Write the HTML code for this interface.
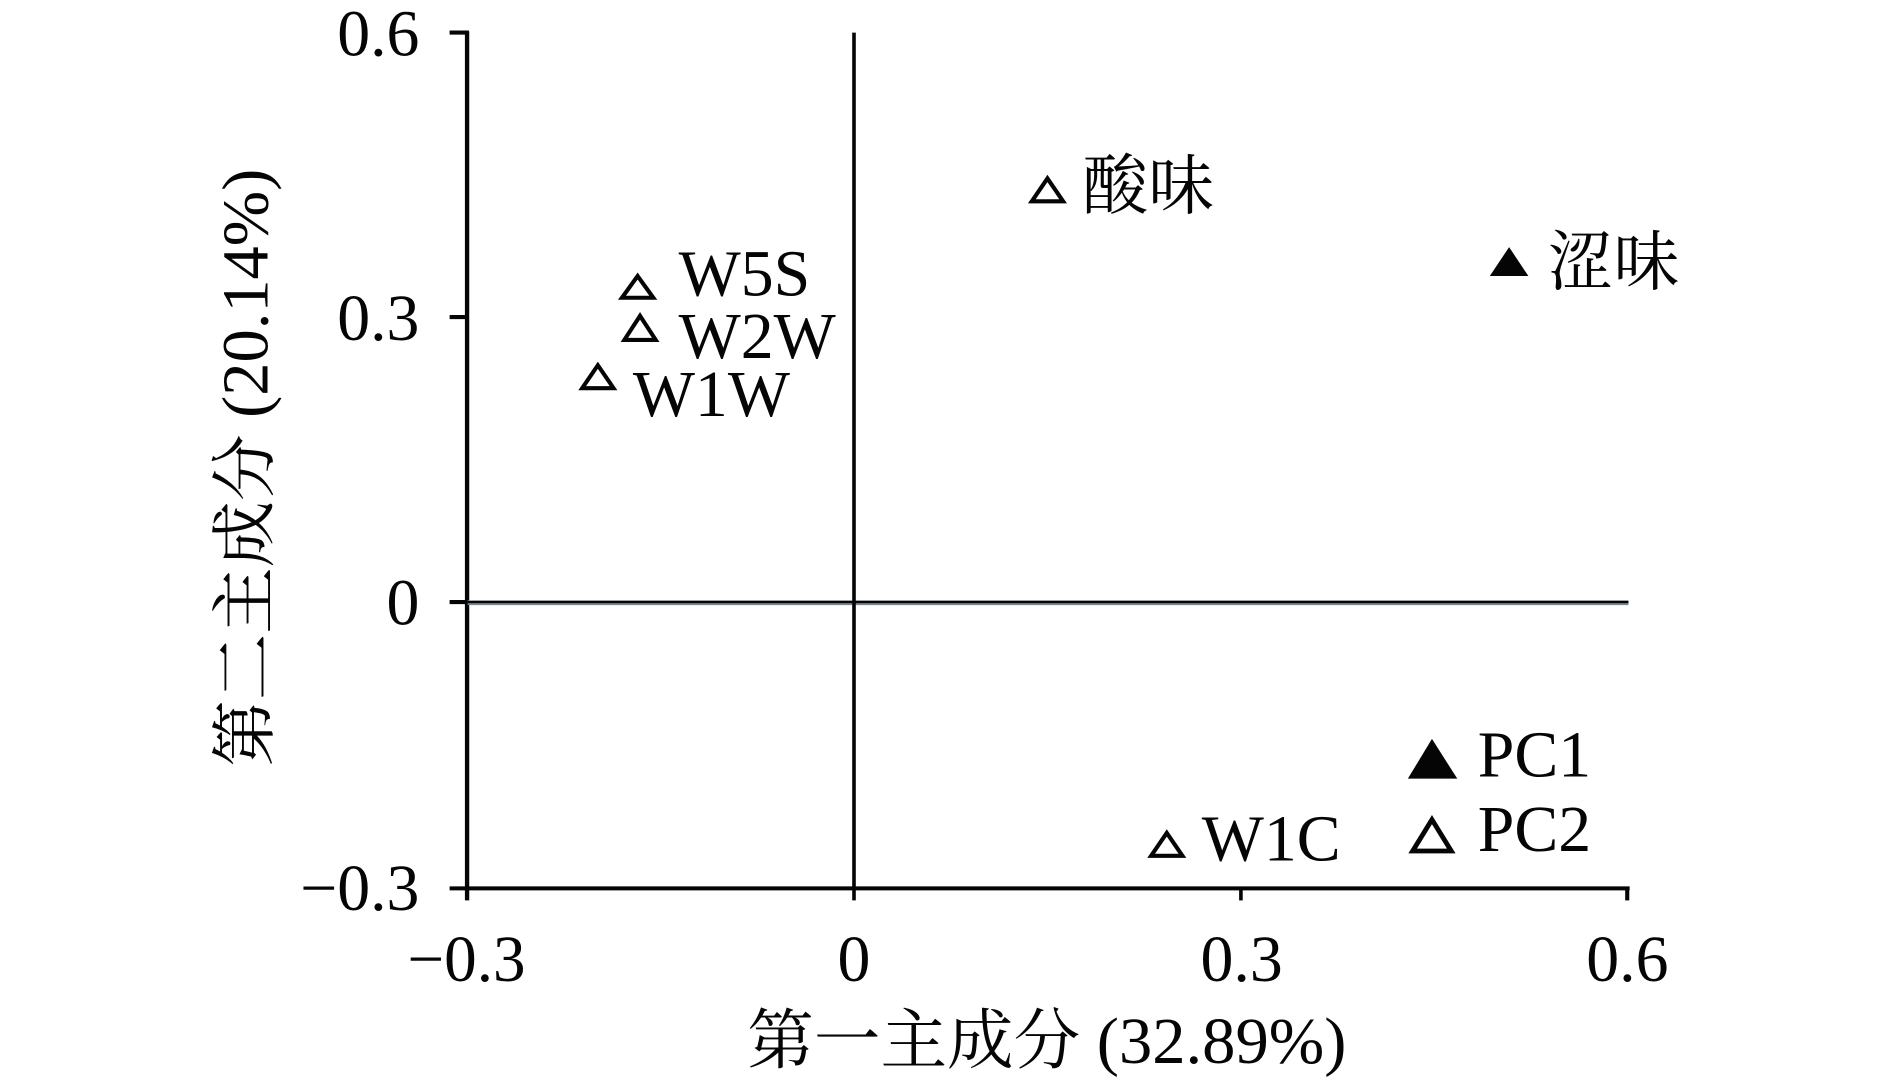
<!DOCTYPE html>
<html><head><meta charset="utf-8"><style>
html,body{margin:0;padding:0;background:#fff;width:1890px;height:1081px;overflow:hidden}
svg{display:block}
text{font-family:"Liberation Serif","Noto Serif CJK SC",serif;fill:#050505;font-size:54.6px}
</style></head><body>
<svg width="1890" height="1081" viewBox="0 0 1568 896.8" xmlns="http://www.w3.org/2000/svg">
<g stroke="#050505" fill="none">
<path d="M387.5 26V747" stroke-width="3.6"/>
<path d="M373 27H389M373 263H389M373 499.5H389M373 737H1352" stroke-width="3.4"/>
<path d="M388 500H1351" stroke="#7b848c" stroke-width="4"/>
<path d="M388 499.5H1351" stroke-width="1.8"/>
<path d="M708.5 27V747" stroke-width="3"/>
<path d="M1029.5 737V747" stroke-width="3"/>
<path d="M1350 736V747" stroke-width="3.4"/>
</g>
<g fill="none" stroke="#050505" stroke-width="3.4">
<path d="M529 229L542 247H516Z"/>
<path d="M531 262L544 282H518Z"/>
<path d="M496 303L509 322H483Z"/>
<path d="M869 148L882 167H856Z"/>
<path d="M1188 680L1204 706H1172Z" stroke-width="4"/>
<path d="M968 691L981 710H955Z"/>
</g>
<path d="M1252 205L1268 229H1236Z" fill="#050505"/>
<path d="M1188 613L1209 646H1168Z" fill="#050505"/>
<text x="348" y="46" text-anchor="end">0.6</text>
<text x="348" y="282" text-anchor="end">0.3</text>
<text x="348" y="518" text-anchor="end">0</text>
<text x="348" y="755" text-anchor="end">−0.3</text>
<text x="338" y="814" textLength="98" lengthAdjust="spacingAndGlyphs">−0.3</text>
<text x="708.5" y="814" text-anchor="middle">0</text>
<text x="996" y="814">0.3</text>
<text x="1316" y="814">0.6</text>
<text x="620" y="882" textLength="497" lengthAdjust="spacingAndGlyphs">第一主成分 (32.89%)</text>
<text transform="translate(222 636) rotate(-90)" textLength="496" lengthAdjust="spacingAndGlyphs">第二主成分 (20.14%)</text>
<text x="563" y="245">W5S</text>
<text x="563" y="297">W2W</text>
<text x="525" y="345">W1W</text>
<text x="898" y="173">酸味</text>
<text x="1284" y="236">涩味</text>
<text x="1226" y="644">PC1</text>
<text x="1226" y="706">PC2</text>
<text x="997" y="714">W1C</text>
</svg>
</body></html>
